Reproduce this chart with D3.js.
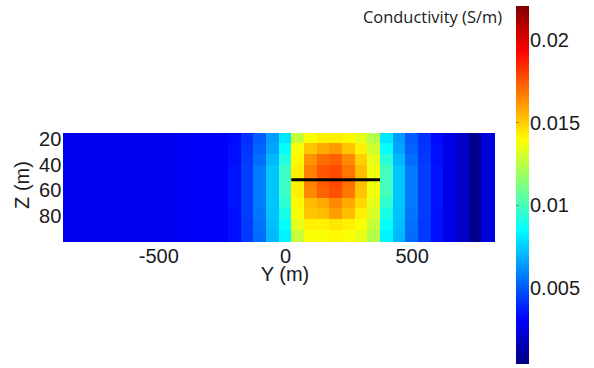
<!DOCTYPE html>
<html>
<head>
<meta charset="utf-8">
<script src="https://cdn.jsdelivr.net/npm/d3@7"></script>
<style>
  body { margin: 0; background: #fff; }
</style>
</head>
<body>
<svg id="chart" width="594" height="368"></svg>
<script>
// cell centres along Y (m), 50 m wide
const yCenters = [-850, -800, -750, -700, -650, -600, -550, -500, -450, -400, -350, -300, -250, -200, -150, -100, -50,
  0, 50, 100, 150, 200, 250, 300, 350, 400, 450, 500, 550, 600, 650, 700, 750, 800];
// layer boundaries along Z (m)
const zEdges = [15, 23.5, 32, 40.5, 49, 57.5, 66, 74.5, 83, 91.5, 100];

// conductivity (S/m), one row per layer, top to bottom
const row0 = [0.0028, 0.0028, 0.0028, 0.0028, 0.0028, 0.0028, 0.0028, 0.0028, 0.0028, 0.0029, 0.0030, 0.0030, 0.0031, 0.0033, 0.0041, 0.0050, 0.0064, 0.0080, 0.0127, 0.0138, 0.0142, 0.0142, 0.0140, 0.0134, 0.0123, 0.0080, 0.0064, 0.0050, 0.0041, 0.0033, 0.0026, 0.0019, 0.0007, 0.0023];
const row1 = [0.0028, 0.0028, 0.0028, 0.0028, 0.0028, 0.0028, 0.0028, 0.0028, 0.0028, 0.0029, 0.0030, 0.0030, 0.0031, 0.0034, 0.0042, 0.0052, 0.0066, 0.0086, 0.0138, 0.0151, 0.0157, 0.0160, 0.0151, 0.0142, 0.0129, 0.0086, 0.0066, 0.0052, 0.0042, 0.0034, 0.0026, 0.0019, 0.0007, 0.0023];
const row2 = [0.0028, 0.0028, 0.0028, 0.0028, 0.0028, 0.0028, 0.0028, 0.0028, 0.0028, 0.0029, 0.0030, 0.0030, 0.0031, 0.0034, 0.0043, 0.0054, 0.0070, 0.0092, 0.0140, 0.0162, 0.0170, 0.0172, 0.0164, 0.0149, 0.0134, 0.0093, 0.0070, 0.0054, 0.0043, 0.0034, 0.0026, 0.0019, 0.0007, 0.0023];
const row3 = [0.0028, 0.0028, 0.0028, 0.0028, 0.0028, 0.0028, 0.0028, 0.0028, 0.0028, 0.0029, 0.0030, 0.0030, 0.0031, 0.0035, 0.0044, 0.0057, 0.0073, 0.0097, 0.0142, 0.0166, 0.0175, 0.0177, 0.0168, 0.0153, 0.0136, 0.0099, 0.0073, 0.0057, 0.0044, 0.0035, 0.0026, 0.0019, 0.0007, 0.0023];
const row4 = [0.0028, 0.0028, 0.0028, 0.0028, 0.0028, 0.0028, 0.0028, 0.0028, 0.0028, 0.0029, 0.0030, 0.0030, 0.0031, 0.0035, 0.0044, 0.0057, 0.0073, 0.0097, 0.0142, 0.0166, 0.0174, 0.0178, 0.0170, 0.0153, 0.0136, 0.0099, 0.0073, 0.0057, 0.0044, 0.0035, 0.0026, 0.0019, 0.0007, 0.0023];
const row5 = [0.0028, 0.0028, 0.0028, 0.0028, 0.0028, 0.0028, 0.0028, 0.0028, 0.0028, 0.0029, 0.0030, 0.0030, 0.0031, 0.0035, 0.0044, 0.0057, 0.0073, 0.0097, 0.0142, 0.0164, 0.0172, 0.0176, 0.0168, 0.0151, 0.0136, 0.0099, 0.0073, 0.0057, 0.0044, 0.0035, 0.0026, 0.0019, 0.0007, 0.0023];
const row6 = [0.0028, 0.0028, 0.0028, 0.0028, 0.0028, 0.0028, 0.0028, 0.0028, 0.0028, 0.0029, 0.0030, 0.0030, 0.0031, 0.0035, 0.0044, 0.0057, 0.0073, 0.0094, 0.0140, 0.0153, 0.0157, 0.0164, 0.0157, 0.0147, 0.0134, 0.0095, 0.0073, 0.0057, 0.0044, 0.0035, 0.0026, 0.0019, 0.0007, 0.0023];
const row7 = [0.0028, 0.0028, 0.0028, 0.0028, 0.0028, 0.0028, 0.0028, 0.0028, 0.0028, 0.0029, 0.0030, 0.0030, 0.0031, 0.0034, 0.0044, 0.0056, 0.0072, 0.0090, 0.0138, 0.0151, 0.0153, 0.0160, 0.0153, 0.0142, 0.0131, 0.0090, 0.0072, 0.0056, 0.0044, 0.0034, 0.0026, 0.0019, 0.0007, 0.0023];
const row8 = [0.0028, 0.0028, 0.0028, 0.0028, 0.0028, 0.0028, 0.0028, 0.0028, 0.0028, 0.0029, 0.0030, 0.0030, 0.0031, 0.0034, 0.0043, 0.0055, 0.0071, 0.0086, 0.0134, 0.0142, 0.0142, 0.0144, 0.0142, 0.0138, 0.0127, 0.0086, 0.0071, 0.0055, 0.0043, 0.0034, 0.0026, 0.0019, 0.0007, 0.0023];
const row9 = [0.0028, 0.0028, 0.0028, 0.0028, 0.0028, 0.0028, 0.0028, 0.0028, 0.0028, 0.0029, 0.0030, 0.0030, 0.0031, 0.0034, 0.0043, 0.0054, 0.0070, 0.0083, 0.0127, 0.0138, 0.0138, 0.0140, 0.0138, 0.0134, 0.0123, 0.0083, 0.0070, 0.0054, 0.0043, 0.0034, 0.0026, 0.0019, 0.0007, 0.0023];
const rows = [row0, row1, row2, row3, row4, row5, row6, row7, row8, row9];

const yTicks = [-500, 0, 500];
const zTicks = [20, 40, 60, 80];
const cbTicks = [0.005, 0.01, 0.015, 0.02];
const cbDomain = [0.0004, 0.022];
// survey line (black)
const lineY = [25, 375];
const lineZ = 52;

const FONT = '"Liberation Sans", Arial, Helvetica, sans-serif';
const svg = d3.select('#chart');
const cellW = 50;

const xScale = d3.scaleLinear().domain([-875, 825]).range([63.3, 494]);
const zScale = d3.scaleLinear().domain([15, 100]).range([132.5, 241]);
const tScale = d3.scaleLinear().domain(cbDomain).range([0, 1]).clamp(true);

function jet(t) {
  const c = v => Math.round(255 * Math.max(0, Math.min(1, v)));
  return `rgb(${c(1.5 - Math.abs(4 * t - 3))},${c(1.5 - Math.abs(4 * t - 2))},${c(1.5 - Math.abs(4 * t - 1))})`;
}
const colour = v => jet(tScale(v));

// cells
const cells = [];
rows.forEach((r, i) => r.forEach((v, j) => cells.push({ y: yCenters[j], z0: zEdges[i], z1: zEdges[i + 1], v })));

svg.append('g')
  .attr('class', 'cells')
  .attr('shape-rendering', 'crispEdges')
  .selectAll('rect')
  .data(cells)
  .enter()
  .append('rect')
  .attr('x', d => xScale(d.y - cellW / 2))
  .attr('y', d => zScale(d.z0))
  .attr('width', d => xScale(d.y + cellW / 2) - xScale(d.y - cellW / 2) + 0.6)
  .attr('height', d => zScale(d.z1) - zScale(d.z0) + 0.6)
  .attr('fill', d => colour(d.v));

svg.append('line')
  .attr('x1', xScale(lineY[0]))
  .attr('x2', xScale(lineY[1]))
  .attr('y1', zScale(lineZ))
  .attr('y2', zScale(lineZ))
  .attr('stroke', '#000')
  .attr('stroke-width', 3);

// axes
const xAxis = svg.append('g')
  .attr('transform', `translate(0,${zScale(100)})`)
  .call(d3.axisBottom(xScale).tickValues(yTicks).tickSize(0).tickPadding(0).tickFormat(d => String(d)));
xAxis.select('.domain').remove();
xAxis.selectAll('text').attr('y', 22).attr('dy', 0)
  .style('font-family', FONT).style('font-size', '20px').style('fill', '#1a1a1a');

const zAxis = svg.append('g')
  .attr('transform', `translate(${xScale(-875)},0)`)
  .call(d3.axisLeft(zScale).tickValues(zTicks).tickSize(0).tickPadding(0));
zAxis.select('.domain').remove();
zAxis.selectAll('text').attr('x', -2).attr('dy', '0.35em')
  .style('font-family', FONT).style('font-size', '20px').style('fill', '#1a1a1a');

svg.append('text')
  .attr('x', 285)
  .attr('y', 281)
  .attr('text-anchor', 'middle')
  .style('font-family', FONT)
  .style('font-size', '20px')
  .style('fill', '#1a1a1a')
  .text('Y (m)');

svg.append('text')
  .attr('transform', 'translate(29,185) rotate(-90)')
  .attr('text-anchor', 'middle')
  .style('font-family', FONT)
  .style('font-size', '20px')
  .style('fill', '#1a1a1a')
  .text('Z (m)');

// colour bar
const cbScale = d3.scaleLinear().domain(cbDomain).range([364, 6]);
const grad = svg.append('defs').append('linearGradient')
  .attr('id', 'jet')
  .attr('x1', 0).attr('y1', 1).attr('x2', 0).attr('y2', 0);
grad.selectAll('stop')
  .data([0, 0.125, 0.375, 0.625, 0.875, 1])
  .enter()
  .append('stop')
  .attr('offset', d => d)
  .attr('stop-color', d => jet(d));

svg.append('rect')
  .attr('x', 516)
  .attr('y', cbScale(cbDomain[1]))
  .attr('width', 13)
  .attr('height', cbScale(cbDomain[0]) - cbScale(cbDomain[1]))
  .attr('fill', 'url(#jet)');

const cbAxis = svg.append('g')
  .attr('transform', 'translate(516,0)')
  .call(d3.axisRight(cbScale).tickValues(cbTicks).tickSize(3).tickPadding(11).tickFormat(d => d));
cbAxis.select('.domain').remove();
cbAxis.selectAll('.tick line').attr('stroke', '#444').attr('stroke-opacity', 0.5);
cbAxis.selectAll('text').attr('dy', '0.35em')
  .style('font-family', FONT).style('font-size', '20px').style('fill', '#1a1a1a');

svg.append('text')
  .attr('x', 363)
  .attr('y', 23)
  .attr('textLength', 139)
  .attr('lengthAdjust', 'spacingAndGlyphs')
  .style('font-family', '"Open Sans", sans-serif')
  .style('font-size', '17px')
  .style('fill', '#1a1a1a')
  .text('Conductivity (S/m)');
</script>
</body>
</html>
